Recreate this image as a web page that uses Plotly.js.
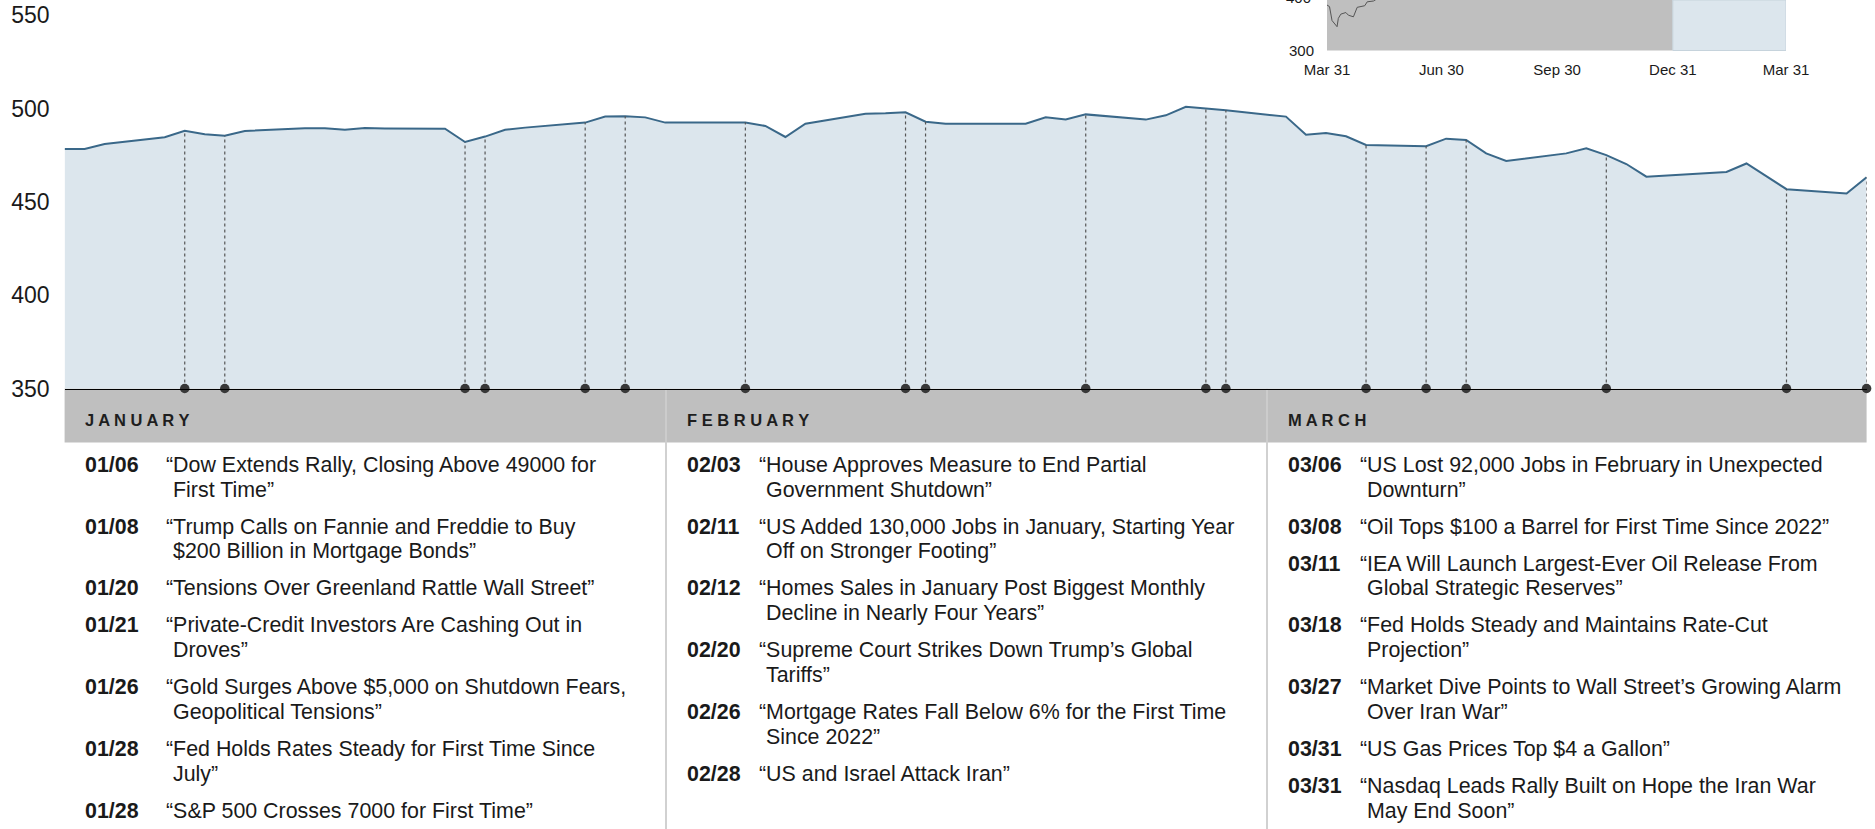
<!DOCTYPE html>
<html><head><meta charset="utf-8">
<script src="https://cdn.plot.ly/plotly-3.0.1.min.js"></script>
<style>html,body{margin:0;padding:0;background:#fff;overflow:hidden}#chart{width:1875px;height:829px}</style>
</head><body><div id="chart"></div>
<script>
// ---------- main series (daily closes, Dec 31 – Mar 31) ----------
const dates = ['2025-12-31','2026-01-01','2026-01-02','2026-01-05','2026-01-06','2026-01-07','2026-01-08','2026-01-09',
  '2026-01-12','2026-01-13','2026-01-14','2026-01-15','2026-01-16','2026-01-19','2026-01-20','2026-01-21','2026-01-22','2026-01-23',
  '2026-01-26','2026-01-27','2026-01-28','2026-01-29','2026-01-30','2026-02-02','2026-02-03','2026-02-04','2026-02-05','2026-02-06',
  '2026-02-09','2026-02-10','2026-02-11','2026-02-12','2026-02-13','2026-02-16','2026-02-17','2026-02-18','2026-02-19','2026-02-20',
  '2026-02-23','2026-02-24','2026-02-25','2026-02-26','2026-02-27','2026-03-02','2026-03-03','2026-03-04','2026-03-05','2026-03-06',
  '2026-03-09','2026-03-10','2026-03-11','2026-03-12','2026-03-13','2026-03-16','2026-03-17','2026-03-18','2026-03-19','2026-03-20',
  '2026-03-23','2026-03-24','2026-03-25','2026-03-26','2026-03-27','2026-03-30','2026-03-31'];
const values = [478.3,478.3,481.0,484.7,488.1,486.2,485.4,488.0,
  489.5,489.5,488.7,489.6,489.4,489.2,482.1,485.0,488.7,489.8,
  492.5,495.7,495.9,495.3,492.5,492.4,492.5,490.7,484.8,491.9,
  497.3,497.5,498.0,493.0,491.9,491.9,491.9,495.3,494.2,496.9,
  494.1,496.4,501.0,500.0,499.1,495.7,486.0,486.9,485.2,480.5,
  479.8,483.9,483.2,476.0,471.9,476.0,478.7,475.1,470.3,463.5,
  465.5,466.0,470.6,463.5,456.8,454.5,463.2];
const eventMarkerDates = ['2026-01-06','2026-01-08','2026-01-20','2026-01-21','2026-01-26','2026-01-28','2026-02-03',
  '2026-02-11','2026-02-12','2026-02-20','2026-02-26','2026-02-27','2026-03-06','2026-03-09','2026-03-11','2026-03-18',
  '2026-03-27','2026-03-31'];
const yTickVals = [350,400,450,500,550];
const yBase = 350;

// ---------- inset (trailing year) ----------
const insetDates = ['2025-03-31','2025-04-02','2025-04-04','2025-04-08','2025-04-09','2025-04-11','2025-04-15','2025-04-17',
  '2025-04-21','2025-04-24','2025-04-30','2025-05-02','2025-05-07','2025-05-12'];
const insetValues = [385,382,356,344.5,360,368,371,366,363,380.7,383.7,391,392.5,400];
const insetTickVals = ['2025-03-31','2025-06-30','2025-09-30','2025-12-31','2026-03-31'];
const insetTickText = ['Mar 31','Jun 30','Sep 30','Dec 31','Mar 31'];
const insetYTickVals = [300,400];
const insetPeriods = ['2025-03-31','2025-12-31','2026-03-31'];

// ---------- event table ----------
const monthNames = ['J A N U A R Y','F E B R U A R Y','M A R C H'];
const janDates = ['01/06','01/08','01/20','01/21','01/26','01/28','01/28'];
const janHeadlines = [
  ['“Dow Extends Rally, Closing Above 49000 for','First Time”'],
  ['“Trump Calls on Fannie and Freddie to Buy','$200 Billion in Mortgage Bonds”'],
  ['“Tensions Over Greenland Rattle Wall Street”'],
  ['“Private-Credit Investors Are Cashing Out in','Droves”'],
  ['“Gold Surges Above $5,000 on Shutdown Fears,','Geopolitical Tensions”'],
  ['“Fed Holds Rates Steady for First Time Since','July”'],
  ['“S&P 500 Crosses 7000 for First Time”']];
const febDates = ['02/03','02/11','02/12','02/20','02/26','02/28'];
const febHeadlines = [
  ['“House Approves Measure to End Partial','Government Shutdown”'],
  ['“US Added 130,000 Jobs in January, Starting Year','Off on Stronger Footing”'],
  ['“Homes Sales in January Post Biggest Monthly','Decline in Nearly Four Years”'],
  ['“Supreme Court Strikes Down Trump’s Global','Tariffs”'],
  ['“Mortgage Rates Fall Below 6% for the First Time','Since 2022”'],
  ['“US and Israel Attack Iran”']];
const marDates = ['03/06','03/08','03/11','03/18','03/27','03/31','03/31'];
const marHeadlines = [
  ['“US Lost 92,000 Jobs in February in Unexpected','Downturn”'],
  ['“Oil Tops $100 a Barrel for First Time Since 2022”'],
  ['“IEA Will Launch Largest-Ever Oil Release From','Global Strategic Reserves”'],
  ['“Fed Holds Steady and Maintains Rate-Cut','Projection”'],
  ['“Market Dive Points to Wall Street’s Growing Alarm','Over Iran War”'],
  ['“US Gas Prices Top $4 a Gallon”'],
  ['“Nasdaq Leads Rally Built on Hope the Iran War','May End Soon”']];

// ---------- geometry (pixels) ----------
const W = 1875, H = 829;
const plotL = 64.6, plotR = 1866.6, baseY = 388.5, headerB = 442.5, pxPerUnit = 1.866;
const insetL = 1327, insetR = 1786, insetB = 50.5, insetPxPerUnit = 0.535;
const colX = [64.6, 666, 1267];
const dateX = [83, 685, 1286];
const headX = [164, 757, 1357.5];
const px = x => x / W, py = y => 1 - y / H;
const FONT = 'Liberation Sans, Arial, Helvetica, sans-serif';
const TXT = '#1a1a1a';

const valueAt = d => values[dates.indexOf(d)];

const dropX = [], dropY = [];
eventMarkerDates.forEach(d => { dropX.push(d, d, null); dropY.push(yBase, valueAt(d), null); });

const traces = [
  {x: dates, y: values, type: 'scatter', mode: 'lines', fill: 'tozeroy', fillcolor: '#dce6ed',
   line: {color: '#3a6889', width: 2}, hoverinfo: 'skip', xaxis: 'x', yaxis: 'y'},
  {x: dropX, y: dropY, type: 'scatter', mode: 'lines', line: {color: '#555', width: 1.2, dash: 'dot'},
   hoverinfo: 'skip', xaxis: 'x', yaxis: 'y'},
  {x: eventMarkerDates, y: eventMarkerDates.map(() => yBase), type: 'scatter', mode: 'markers',
   marker: {size: 9.5, color: '#383838'}, cliponaxis: false, hoverinfo: 'skip', xaxis: 'x', yaxis: 'y'},
  {x: insetDates, y: insetValues, type: 'scatter', mode: 'lines', line: {color: '#555', width: 1},
   hoverinfo: 'skip', xaxis: 'x2', yaxis: 'y2'}
];

const shapes = [
  {type: 'rect', xref: 'x2', yref: 'y2 domain', x0: insetPeriods[0], x1: insetPeriods[1], y0: 0, y1: 1,
   fillcolor: '#bfbfbf', line: {width: 0}, layer: 'below'},
  {type: 'rect', xref: 'x2', yref: 'y2 domain', x0: insetPeriods[1], x1: insetPeriods[2], y0: 0, y1: 1,
   fillcolor: '#dce6ed', line: {color: '#c6d3dc', width: 1}, layer: 'below'},
  // table header band
  {type: 'rect', xref: 'paper', yref: 'paper', x0: px(plotL), x1: px(plotR), y0: py(headerB), y1: py(baseY),
   fillcolor: '#bfbfbf', line: {width: 0}, layer: 'below'}
];
[colX[1], colX[2]].forEach(x => {
  shapes.push({type: 'line', xref: 'paper', yref: 'paper', x0: px(x), x1: px(x), y0: py(baseY), y1: py(headerB),
    line: {color: '#d0d0d0', width: 1.5}, layer: 'below'});
  shapes.push({type: 'line', xref: 'paper', yref: 'paper', x0: px(x), x1: px(x), y0: py(headerB), y1: 0,
    line: {color: '#c2c2c2', width: 1.5}, layer: 'below'});
});

const annotations = [];
// inset partially visible "400" label
annotations.push({xref: 'paper', yref: 'paper', x: px(1313), y: py(-3), xanchor: 'right', yanchor: 'middle',
  text: String(insetYTickVals[1]), showarrow: false, font: {family: FONT, size: 15, color: TXT}});

const lineH = 24.7, itemGap = 12.3, firstY = 465, headerY = 419.8;
[[janDates, janHeadlines], [febDates, febHeadlines], [marDates, marHeadlines]].forEach((col, ci) => {
  annotations.push({xref: 'paper', yref: 'paper', x: px(dateX[ci]), y: py(headerY), xanchor: 'left', yanchor: 'middle',
    text: '<b>' + monthNames[ci] + '</b>', showarrow: false, font: {family: FONT, size: 16.5, color: '#1e1e1e'}});
  let y = firstY;
  col[0].forEach((d, i) => {
    annotations.push({xref: 'paper', yref: 'paper', x: px(dateX[ci]), y: py(y), xanchor: 'left', yanchor: 'middle',
      text: '<b>' + d + '</b>', showarrow: false, font: {family: FONT, size: 21.4, color: TXT}});
    col[1][i].forEach((ln, li) => {
      annotations.push({xref: 'paper', yref: 'paper', x: px(headX[ci] + (li ? 7 : 0)), y: py(y + li * lineH),
        xanchor: 'left', yanchor: 'middle', text: ln, showarrow: false,
        font: {family: FONT, size: 21.4, color: TXT}});
    });
    y += col[1][i].length * lineH + itemGap;
  });
});

const layout = {
  width: W, height: H, margin: {l: 0, r: 0, t: 0, b: 0}, showlegend: false,
  paper_bgcolor: '#ffffff', plot_bgcolor: 'rgba(0,0,0,0)', font: {family: FONT, color: TXT},
  xaxis: {domain: [px(plotL), px(plotR)], range: [dates[0], dates[dates.length - 1]], type: 'date',
    showticklabels: false, ticks: '', showgrid: false, zeroline: false,
    showline: true, linecolor: '#000', linewidth: 1.5, anchor: 'y'},
  yaxis: {domain: [py(baseY), 1], range: [yBase, yBase + baseY / pxPerUnit], tickvals: yTickVals,
    showgrid: false, zeroline: false, showline: false, ticks: '', ticklabelstandoff: 14,
    tickfont: {family: FONT, size: 23, color: TXT}, anchor: 'x'},
  xaxis2: {domain: [px(insetL), px(insetR)], range: [insetPeriods[0], insetPeriods[2]], type: 'date',
    tickvals: insetTickVals, ticktext: insetTickText, ticks: '', showgrid: false, zeroline: false,
    showline: false, ticklabelstandoff: 8, tickfont: {family: FONT, size: 15, color: TXT}, anchor: 'y2'},
  yaxis2: {domain: [py(insetB), 1], range: [insetYTickVals[0], insetYTickVals[0] + insetB / insetPxPerUnit],
    tickvals: insetYTickVals, ticks: '', showgrid: false, zeroline: false, showline: false,
    ticklabelstandoff: 12, tickfont: {family: FONT, size: 15, color: TXT}, anchor: 'x2'},
  shapes: shapes, annotations: annotations
};

Plotly.newPlot('chart', traces, layout, {displayModeBar: false, staticPlot: true});
</script></body></html>
